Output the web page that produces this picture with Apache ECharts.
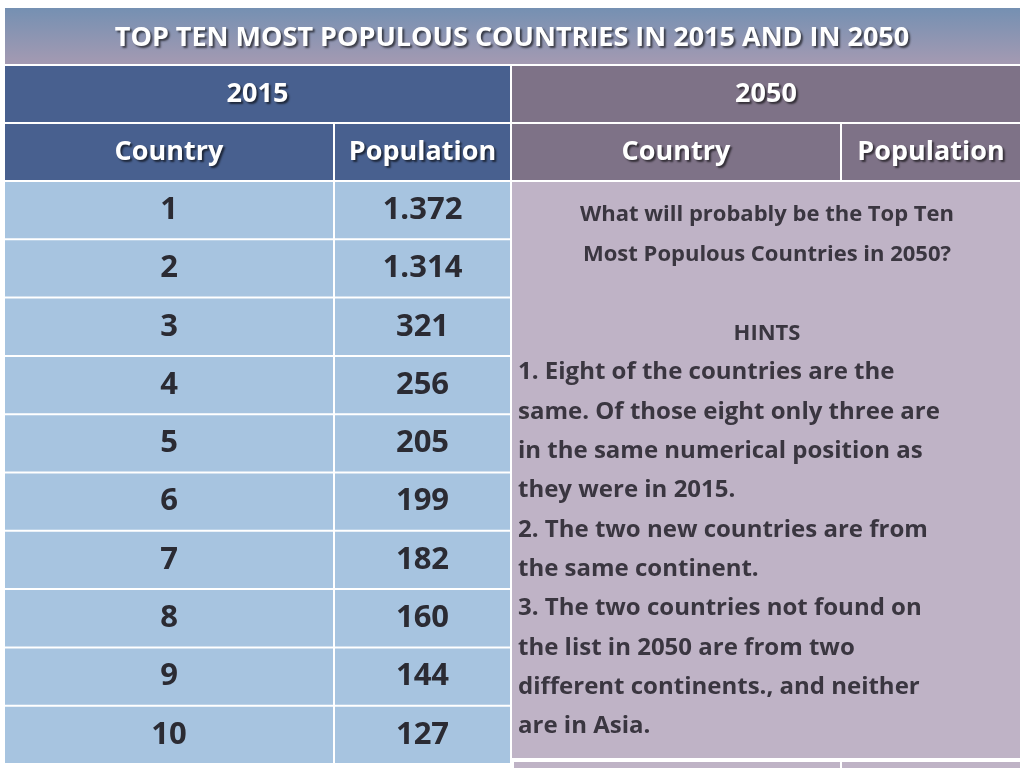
<!DOCTYPE html>
<html>
<head>
<meta charset="utf-8">
<script src="https://cdn.jsdelivr.net/npm/echarts@6/dist/echarts.min.js"></script>
<style>html,body{margin:0;padding:0;background:#fff}#main{width:1024px;height:768px}</style>
</head>
<body>
<div id="main"></div>
<script>
var titleText = 'TOP TEN MOST POPULOUS COUNTRIES IN 2015 AND IN 2050';
var years = ['2015', '2050'];
var colHeads = ['Country', 'Population', 'Country', 'Population'];
var ranks = ['1', '2', '3', '4', '5', '6', '7', '8', '9', '10'];
var pop2015 = ['1.372', '1.314', '321', '256', '205', '199', '182', '160', '144', '127'];
var question = 'What will probably be the Top Ten\nMost Populous Countries in 2050?';
var hints = '\nHINTS';
var hintLines = [
  '1. Eight of the countries are the',
  'same. Of those eight only three are',
  'in the same numerical position as',
  'they were in 2015.',
  '2. The two new countries are from',
  'the same continent.',
  '3. The two countries not found on',
  'the list in 2050 are from two',
  'different continents., and neither',
  'are in Asia.'
];

var font = 'Open Sans';
var cols = [[5, 333], [335, 510], [512, 840], [842, 1020]];
var rowTop = 182, rowH = 58.3;
var els = [];

function cell(x1, y1, x2, y2, fill, txt, size, color, shadow) {
  els.push({
    type: 'rect', shape: {x: x1, y: y1, width: x2 - x1, height: y2 - y1},
    style: {fill: fill}
  });
  if (txt) {
    els.push({
      type: 'text', x: (x1 + x2) / 2, y: (y1 + y2) / 2,
      style: {text: txt, align: 'center', verticalAlign: 'middle', fontFamily: font,
        fontWeight: 'bold', fontSize: size, fill: color,
        textShadowColor: shadow ? 'rgba(0,0,0,0.6)' : 'transparent',
        textShadowOffsetX: 2, textShadowOffsetY: 2, textShadowBlur: 2}
    });
  }
}

// title band
els.push({
  type: 'rect', shape: {x: 5, y: 8, width: 1015, height: 56},
  style: {fill: new echarts.graphic.LinearGradient(0, 0, 0, 1, [
    {offset: 0, color: '#7590b2'}, {offset: 1, color: '#a49ab2'}])}
});
els.push({
  type: 'text', x: 512, y: 38,
  style: {text: titleText, align: 'center', verticalAlign: 'middle', fontFamily: font,
    fontWeight: 'bold', fontSize: 27, fill: '#fff', textShadowColor: 'rgba(0,0,0,0.6)',
    textShadowOffsetX: 2, textShadowOffsetY: 2, textShadowBlur: 2}
});

cell(5, 66, 510, 122, '#48608f', years[0], 27, '#fff', true);
cell(512, 66, 1020, 122, '#7e7287', years[1], 27, '#fff', true);
colHeads.forEach(function (h, i) {
  cell(cols[i][0], 124, cols[i][1], 180, i < 2 ? '#48608f' : '#7e7287', h, 27, '#fff', true);
});

ranks.forEach(function (r, i) {
  var y1 = rowTop + i * rowH, y2 = y1 + rowH - 2;
  cell(cols[0][0], y1, cols[0][1], y2, '#a7c4e0', r, 31, '#2b2b33', false);
  cell(cols[1][0], y1, cols[1][1], y2, '#a7c4e0', pop2015[i], 31, '#2b2b33', false);
});

// 2050 overlay box
els.push({type: 'rect', shape: {x: 512, y: 182, width: 508, height: 576}, style: {fill: '#bfb3c6'}});
els.push({type: 'rect', shape: {x: 514, y: 762, width: 326, height: 6}, style: {fill: '#bfb3c6'}});
els.push({type: 'rect', shape: {x: 842, y: 762, width: 178, height: 6}, style: {fill: '#bfb3c6'}});
els.push({
  type: 'text', x: 767, y: 195,
  style: {text: question + '\n' + hints, align: 'center', verticalAlign: 'top', fontFamily: font,
    fontWeight: 'bold', fontSize: 22, lineHeight: 39.5, fill: '#3a3640'}
});
els.push({
  type: 'text', x: 518, y: 353,
  style: {text: hintLines.join('\n'), align: 'left', verticalAlign: 'top', fontFamily: font,
    fontWeight: 'bold', fontSize: 24, lineHeight: 39.3, fill: '#3a3640'}
});

var myChart = echarts.init(document.getElementById('main'));
myChart.setOption({backgroundColor: '#fff', graphic: {elements: els}});
</script>
</body>
</html>
